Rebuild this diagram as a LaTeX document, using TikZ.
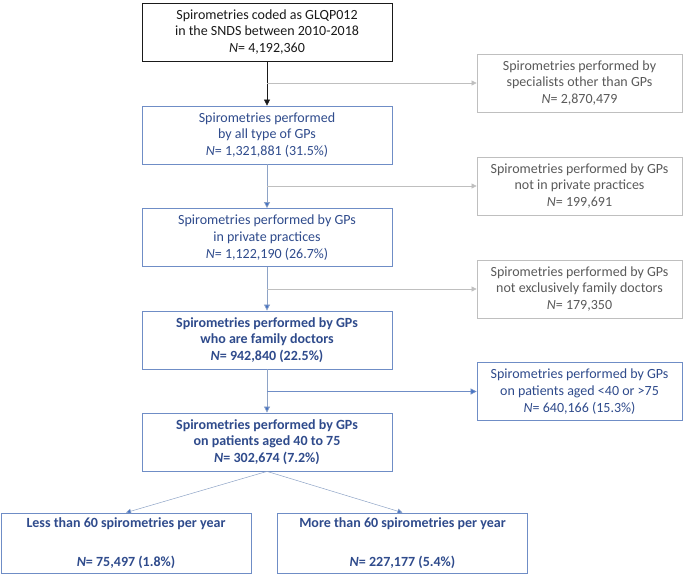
\documentclass[tikz,border=0pt]{standalone}
\usepackage{fontspec}
\setmainfont{Carlito}
\usepackage{tikz}
\usetikzlibrary{arrows.meta,positioning,calc}
\definecolor{ink}{HTML}{1A1A1A}
\definecolor{deepblue}{HTML}{2F4B8C}
\definecolor{frameblue}{HTML}{6F8DC6}
\definecolor{tipblue}{HTML}{4472C4}
\definecolor{trunkblue}{HTML}{8EA3C6}
\definecolor{greytext}{HTML}{5A5A5A}
\definecolor{greyline}{HTML}{BFBFBF}
\tikzset{
  box/.style={rectangle, draw=ink, fill=white, line width=0.8pt, align=center,
              inner sep=2pt, minimum width=250pt, minimum height=58pt, text=ink},
  mainbox/.style={box, draw=frameblue, text=deepblue},
  keybox/.style={mainbox, font=\fontsize{14}{16.8}\selectfont\bfseries},
  outbox/.style={box, draw=greyline, text=greytext, minimum width=205pt},
  outbluebox/.style={box, draw=frameblue, text=deepblue, minimum width=205pt},
  flow/.style={-{Triangle[length=6pt,width=6pt]}, draw=ink, line width=0.6pt},
  mainflow/.style={-{Triangle[length=6pt,width=6pt,fill=tipblue]}, draw=trunkblue, line width=0.7pt},
  outflow/.style={-{Triangle[length=5pt,width=5pt]}, draw=greyline, line width=0.6pt},
  outblueflow/.style={-{Triangle[length=6pt,width=6pt,fill=tipblue]}, draw=frameblue, line width=0.7pt},
  splitflow/.style={-{Triangle[length=5pt,width=5pt,fill=tipblue]}, draw=trunkblue, line width=0.5pt}
}

\begin{document}
\begin{tikzpicture}[x=1pt, y=-1pt, every node/.style={font=\fontsize{14}{16.8}\selectfont}]
 \useasboundingbox (0,0) rectangle (685,576);
 % main column
 \node[box] (coded) at (267,32) {Spirometries coded as GLQP012\\in the SNDS between 2010-2018\\\textit{N}= 4,192,360};
 \node[mainbox] (allgp) at (267,135) {Spirometries performed\\by all type of GPs\\\textit{N}= 1,321,881 (31.5\%)};
 \node[mainbox] (private) at (267,237.5) {Spirometries performed by GPs\\in private practices\\\textit{N}= 1,122,190 (26.7\%)};
 \node[keybox] (family) at (267,340) {Spirometries performed by GPs\\who are family doctors\\\textit{N}= 942,840 (22.5\%)};
 \node[keybox] (aged) at (267,442) {Spirometries performed by GPs\\on patients aged 40 to 75\\\textit{N}= 302,674 (7.2\%)};
 % exclusions
 \node[outbox] (spec) at (579.5,83) {Spirometries performed by\\specialists other than GPs\\\textit{N}= 2,870,479};
 \node[outbox] (notpriv) at (579.5,186) {Spirometries performed by GPs\\not in private practices\\\textit{N}= 199,691};
 \node[outbox] (notfam) at (579.5,289) {Spirometries performed by GPs\\not exclusively family doctors\\\textit{N}= 179,350};
 \node[outbluebox] (outage) at (579.5,391.5) {Spirometries performed by GPs\\on patients aged <40 or >75\\\textit{N}= 640,166 (15.3\%)};
 % split by activity
 \node[keybox, minimum height=60pt] (less) at (126,543) {Less than 60 spirometries per year\\[22pt]\textit{N}= 75,497 (1.8\%)};
 \node[keybox, minimum height=60pt] (more) at (402.5,543) {More than 60 spirometries per year\\[22pt]\textit{N}= 227,177 (5.4\%)};

 \coordinate (jspec) at (coded.south |- spec.west);
 \coordinate (jpriv) at (allgp.south |- notpriv.west);
 \coordinate (jfam) at (private.south |- notfam.west);
 \coordinate (jage) at (family.south |- outage.west);

 \draw[flow] (coded) -- (allgp);
 \draw[mainflow] (allgp) -- (private);
 \draw[mainflow] (private) -- (family);
 \draw[mainflow] (family) -- (aged);
 \draw[outflow] (jspec) -- (spec);
 \draw[outflow] (jpriv) -- (notpriv);
 \draw[outflow] (jfam) -- (notfam);
 \draw[outblueflow] (jage) -- (outage);
 \draw[splitflow] (aged.south) -- (less.north);
 \draw[splitflow] (aged.south) -- (more.north);
\end{tikzpicture}
\end{document}
